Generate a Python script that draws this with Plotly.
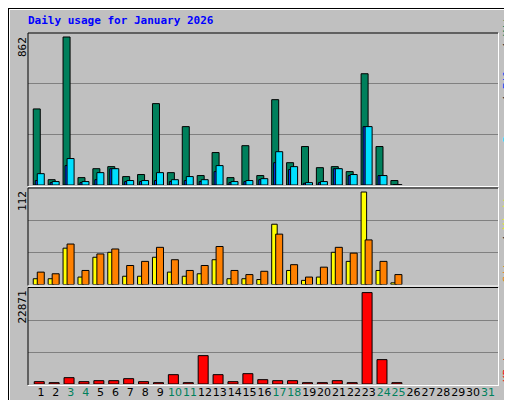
import plotly.graph_objects as go

days = list(range(1, 32))
weekend = [3, 4, 10, 11, 17, 18, 24, 25, 31]
hits  = [443, 31, 862, 43, 95, 107, 49, 61, 474, 72, 340, 55, 189, 43, 229, 55, 497, 130, 224, 101, 107, 78, 648, 224, 26]
files = [26, 14, 113, 14, 31, 95, 20, 20, 26, 20, 26, 20, 78, 14, 20, 31, 130, 90, 10, 14, 95, 55, 340, 55, 2]
pages = [66, 20, 154, 20, 72, 95, 26, 26, 72, 31, 49, 31, 113, 20, 26, 37, 194, 107, 14, 20, 95, 61, 340, 55, 2]
visits = [7, 7, 44, 9, 33, 39, 10, 10, 33, 15, 10, 13, 30, 7, 7, 6, 73, 17, 5, 9, 39, 28, 112, 17, 2]
sites  = [15, 13, 49, 17, 37, 43, 23, 28, 45, 30, 17, 23, 46, 17, 12, 16, 61, 24, 9, 21, 45, 38, 54, 28, 12]
kbytes = [584, 334, 1586, 584, 835, 835, 1336, 584, 334, 2338, 334, 7097, 2338, 584, 2588, 1085, 835, 835, 334, 334, 835, 334, 22871, 6095, 334]
max_hits, max_visits, max_kb = 862, 112, 22871

W, H = 512, 400
def py(p): return (H - p) / H
def px(p): return p / W

n = len(hits)
x = days[:n]
line = dict(color="black", width=1)
fig = go.Figure()
fig.add_bar(x=x, y=hits, width=0.47, offset=-0.517, marker=dict(color="#00805C", line=line), yaxis="y")
fig.add_bar(x=x, y=files, width=0.47, offset=-0.383, marker=dict(color="#0040FF", line=line), yaxis="y")
fig.add_bar(x=x, y=pages, width=0.47, offset=-0.248, marker=dict(color="#00E0FF", line=line), yaxis="y")
fig.add_bar(x=x, y=visits, width=0.37, offset=-0.517, marker=dict(color="#FFFF00", line=line), yaxis="y2")
fig.add_bar(x=x, y=sites, width=0.47, offset=-0.248, marker=dict(color="#FF8000", line=line), yaxis="y2")
fig.add_bar(x=x, y=kbytes, width=0.67, offset=-0.45, marker=dict(color="#FF0000", line=line), yaxis="y3")

ticktext = [f'<span style="color:#00805C">{d}</span>' if d in weekend else str(d) for d in days]

def yax(dom, top):
    return dict(domain=dom, range=[0, top], tickvals=[top/3, 2*top/3], showticklabels=False, automargin=False,
                showgrid=True, gridcolor="#808080", gridwidth=1, zeroline=False, ticks="", fixedrange=True)

fig.update_layout(
    width=W, height=H, margin=dict(l=0, r=0, t=0, b=0, autoexpand=False),
    paper_bgcolor="#C0C0C0", plot_bgcolor="#C0C0C0", showlegend=False, barmode="overlay",
    xaxis=dict(domain=[px(20), px(490)], range=[0.13, 31.67], anchor="y3", automargin=False,
               tickvals=days, ticktext=ticktext, ticks="", showgrid=False, zeroline=False, tickangle=0,
               tickfont=dict(family="DejaVu Sans", size=11, color="black")),
    yaxis=yax([py(177), py(25)], max_hits * 152 / 148),
    yaxis2=yax([py(276.5), py(180)], max_visits * 96 / 92),
    yaxis3=yax([py(376), py(280)], max_kb * 96 / 91.4),
)

shapes = []
def ln(x0, y0, x1, y1, c, w=1):
    shapes.append(dict(type="line", xref="paper", yref="paper", x0=px(x0), y0=py(y0), x1=px(x1), y1=py(y1),
                       line=dict(color=c, width=w)))
ln(0, 0.5, 512, 0.5, "black"); ln(0.5, 0, 0.5, 400, "black")
ln(1.5, 1.5, 505, 1.5, "white"); ln(1.5, 1.5, 1.5, 394, "white")
shapes.append(dict(type="rect", xref="paper", yref="paper", x0=px(505), x1=1, y0=0, y1=1, fillcolor="#808080", line=dict(width=0), layer="below"))
shapes.append(dict(type="rect", xref="paper", yref="paper", x0=0, x1=1, y0=0, y1=py(394), fillcolor="#808080", line=dict(width=0), layer="below"))
ln(0, 399.5, 512, 399.5, "black"); ln(511.5, 0, 511.5, 400, "black")
for top, bot in [(25, 178), (180, 277.5), (279.5, 377)]:
    ln(20, top, 490, top, "black"); ln(20, top, 20, bot, "black")
    ln(490.5, top, 490.5, bot + 1, "white"); ln(20, bot + 0.5, 491, bot + 0.5, "white")
fig.update_layout(shapes=shapes)

mono = "DejaVu Sans Mono"
f = dict(family=mono, size=11, color="black")
ann = [
    dict(x=px(18), y=py(13), text="<b>Daily usage for January 2026</b>", xanchor="left", yanchor="middle",
         font=dict(family=mono, size=11, color="#0000FF")),
    dict(x=px(14), y=py(27), text="862", textangle=-90, xanchor="center", yanchor="top", font=f),
    dict(x=px(14), y=py(181), text="112", textangle=-90, xanchor="center", yanchor="top", font=f),
    dict(x=px(14), y=py(281), text="22871", textangle=-90, xanchor="center", yanchor="top", font=f),
    dict(x=px(499), y=py(137), text='<span style="color:#00E0FF">Pages</span> / <span style="color:#0040FF">Files</span> / <span style="color:#00805C">Hits</span>',
         textangle=-90, xanchor="center", yanchor="bottom", font=f),
    dict(x=px(499), y=py(277), text='<span style="color:#FF8000">Sites</span> / <span style="color:#FFFF00">Visits</span>',
         textangle=-90, xanchor="center", yanchor="bottom", font=f),
    dict(x=px(499), y=py(376), text='<span style="color:#FF0000">KBytes</span>',
         textangle=-90, xanchor="center", yanchor="bottom", font=f),
]
for a in ann:
    a.update(xref="paper", yref="paper", showarrow=False)
fig.update_layout(annotations=ann)
fig.write_html("out.html")
